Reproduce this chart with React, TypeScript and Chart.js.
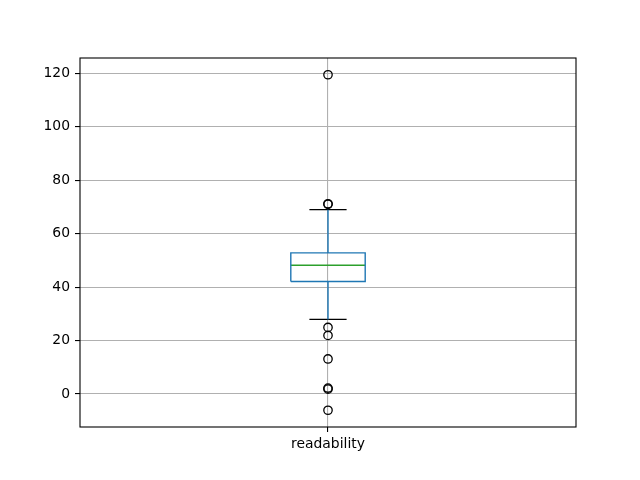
import React, { useEffect, useRef } from "react";
import { Chart, registerables } from "chart.js";

Chart.register(...registerables);

// ---- data ----
const categories = ["readability"];
const q1 = [42.1];
const medians = [48.2];
const q3 = [52.8];
const whiskerLow = [27.9];
const whiskerHigh = [69.0];
const outliers = [[119.5, 71.2, 71.0, 24.9, 21.9, 13.1, 2.2, 1.8, -6.1]];
const yTicks = [0, 20, 40, 60, 80, 100, 120];

const BOX_WIDTH = 0.15;
const BLUE = "#1f77b4";
const GREEN = "#2ca02c";
const GRID = "#b0b0b0";
const FONT = "'DejaVu Sans', sans-serif";

const framePlugin = {
  id: "frame",
  afterDraw(chart: any) {
    const { ctx, chartArea } = chart;
    ctx.save();
    ctx.strokeStyle = "#000";
    ctx.lineWidth = 1.1;
    ctx.strokeRect(chartArea.left, chartArea.top, chartArea.right - chartArea.left, chartArea.bottom - chartArea.top);
    ctx.restore();
  },
};

export default function App() {
  const ref = useRef<HTMLCanvasElement | null>(null);

  useEffect(() => {
    if (!ref.current) return;
    const datasets: any[] = [];
    const lineBase = { showLine: true, pointRadius: 0, fill: false, borderWidth: 1.4, backgroundColor: "transparent" };
    categories.forEach((_, i) => {
      const pos = i + 1;
      const h = BOX_WIDTH / 2;
      const c = BOX_WIDTH / 4;
      datasets.push({ ...lineBase, borderColor: BLUE, data: [
        { x: pos - h, y: q1[i] }, { x: pos + h, y: q1[i] }, { x: pos + h, y: q3[i] }, { x: pos - h, y: q3[i] }, { x: pos - h, y: q1[i] },
      ] });
      datasets.push({ ...lineBase, borderColor: GREEN, data: [{ x: pos - h, y: medians[i] }, { x: pos + h, y: medians[i] }] });
      datasets.push({ ...lineBase, borderColor: BLUE, data: [{ x: pos, y: q3[i] }, { x: pos, y: whiskerHigh[i] }] });
      datasets.push({ ...lineBase, borderColor: BLUE, data: [{ x: pos, y: q1[i] }, { x: pos, y: whiskerLow[i] }] });
      datasets.push({ ...lineBase, borderColor: "#000", data: [{ x: pos - c, y: whiskerHigh[i] }, { x: pos + c, y: whiskerHigh[i] }] });
      datasets.push({ ...lineBase, borderColor: "#000", data: [{ x: pos - c, y: whiskerLow[i] }, { x: pos + c, y: whiskerLow[i] }] });
      datasets.push({
        showLine: false,
        pointRadius: 4.2,
        pointStyle: "circle",
        pointBorderWidth: 1.3,
        pointBorderColor: "#000",
        pointBackgroundColor: "transparent",
        data: outliers[i].map((v) => ({ x: pos, y: v })),
      });
    });

    const all = [...whiskerLow, ...whiskerHigh, ...outliers.flat()];
    const lo = Math.min(...all);
    const hi = Math.max(...all);
    const pad = (hi - lo) * 0.05;

    const chart = new Chart(ref.current, {
      type: "scatter",
      data: { datasets },
      plugins: [framePlugin],
      options: {
        responsive: false,
        animation: false,
        layout: { padding: { top: 58, right: 64, left: 0, bottom: 0 } },
        plugins: { legend: { display: false }, tooltip: { enabled: false } },
        scales: {
          x: {
            type: "linear",
            min: 0.5,
            max: categories.length + 0.5,
            afterBuildTicks: (scale: any) => {
              scale.ticks = categories.map((_, i) => ({ value: i + 1 }));
            },
            afterFit: (scale: any) => { scale.height = 53; },
            ticks: {
              callback: (v: any) => categories[Math.round(Number(v)) - 1] ?? "",
              color: "#000",
              font: { family: FONT, size: 13.9 },
              padding: 4,
              maxRotation: 0,
              autoSkip: false,
            },
            grid: { color: GRID, lineWidth: 1.1, tickColor: "#000", tickWidth: 1.1, tickLength: 5 },
            border: { display: false },
          },
          y: {
            type: "linear",
            min: lo - pad,
            max: hi + pad,
            afterBuildTicks: (scale: any) => {
              scale.ticks = yTicks.map((v) => ({ value: v }));
            },
            afterFit: (scale: any) => { scale.width = 80; },
            ticks: {
              color: "#000",
              font: { family: FONT, size: 13.9 },
              padding: 5,
              includeBounds: false,
            },
            grid: { color: GRID, lineWidth: 1.1, tickColor: "#000", tickWidth: 1.1, tickLength: 5 },
            border: { display: false },
          },
        },
      },
    } as any);
    return () => chart.destroy();
  }, []);

  return (
    <div style={{ position: "absolute", left: 0, top: 0, width: 640, height: 480, background: "#fff" }}>
      <canvas ref={ref} width={640} height={480} />
    </div>
  );
}
